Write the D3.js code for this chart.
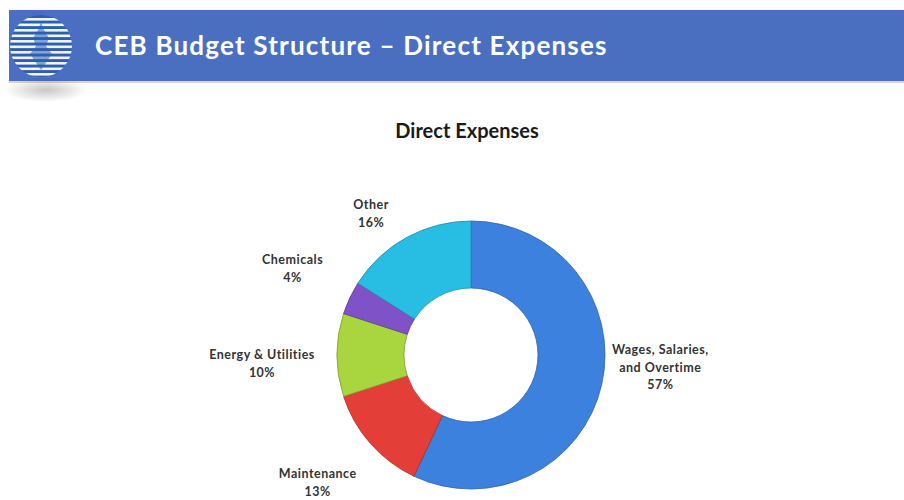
<!DOCTYPE html>
<html>
<head>
<meta charset="utf-8">
<script src="https://cdn.jsdelivr.net/npm/d3@7.9.0/dist/d3.min.js"></script>
<style>
  html, body { margin: 0; padding: 0; background: #fff; }
  svg { display: block; font-family: Lato, "Open Sans", sans-serif; }
</style>
</head>
<body>
<div id="chart"></div>
<script>
/* ---------------- DATA ---------------- */

const categories = ["Wages, Salaries, and Overtime", "Maintenance", "Energy & Utilities", "Chemicals", "Other"];
const labelLines = [["Wages, Salaries,", "and Overtime"], ["Maintenance"], ["Energy & Utilities"], ["Chemicals"], ["Other"]];
const shares = [57, 13, 10, 4, 16];
const colors = ["#3a7ad3", "#d83b35", "#a0ca3b", "#784ebd", "#26b4d7"];

const pageTitle = "CEB Budget Structure \u2013 Direct Expenses";
const chartTitle = "Direct Expenses";

/* ---------------- LAYOUT ---------------- */

const width = 904;
const height = 500;
const cx = 471, cy = 355;
const outerR = 134, innerR = 67;

const svg = d3.select("#chart")
  .append("svg")
  .attr("width", width)
  .attr("height", height);

const defs = svg.append("defs");

/* header bar */
const shadow = defs.append("radialGradient").attr("id", "logoShadow");
shadow.append("stop").attr("offset", "0%").attr("stop-color", "#000").attr("stop-opacity", 0.22);
shadow.append("stop").attr("offset", "100%").attr("stop-color", "#000").attr("stop-opacity", 0);

svg.append("rect")
  .attr("x", 9).attr("y", 10)
  .attr("width", width - 9).attr("height", 72)
  .attr("fill", "#4a6fc1");

svg.append("rect")
  .attr("x", 9).attr("y", 81)
  .attr("width", width - 9).attr("height", 2)
  .attr("fill", "#d4d7c4");

/* logo */
svg.append("ellipse")
  .attr("cx", 46).attr("cy", 90)
  .attr("rx", 42).attr("ry", 12)
  .attr("fill", "url(#logoShadow)");

defs.append("clipPath").attr("id", "logoClip")
  .append("circle").attr("cx", 41).attr("cy", 46).attr("r", 31);

const logo = svg.append("g").attr("clip-path", "url(#logoClip)");
logo.append("circle").attr("cx", 41).attr("cy", 46).attr("r", 31).attr("fill", "#2b5fb3");
d3.range(18, 80, 5.5).forEach(y => {
  logo.append("rect")
    .attr("x", 8).attr("y", y)
    .attr("width", 66).attr("height", 2.6)
    .attr("fill", "#f2f4fa");
});
logo.append("path")
  .attr("d", "M41,22 L44,30 L49,38 L46,46 L52,54 L41,70 L30,54 L36,46 L33,38 L38,30 Z")
  .attr("fill", "#2b5fb3")
  .attr("opacity", 0.55);

svg.append("text")
  .attr("x", 95).attr("y", 55)
  .attr("fill", "#fff")
  .attr("font-size", 26)
  .attr("font-weight", 700)
  .attr("letter-spacing", 1.2)
  .text(pageTitle);

/* chart title */
svg.append("text")
  .attr("x", 467).attr("y", 138)
  .attr("text-anchor", "middle")
  .attr("fill", "#1a1a1a")
  .attr("font-size", 20)
  .attr("font-weight", 700)
  .text(chartTitle);

/* ---------------- DONUT ---------------- */

const pie = d3.pie().sort(null).value(d => d)(shares);
const arc = d3.arc().innerRadius(innerR).outerRadius(outerR);

colors.forEach((c, i) => {
  const g = defs.append("radialGradient")
    .attr("id", `grad${i}`)
    .attr("gradientUnits", "userSpaceOnUse")
    .attr("cx", cx).attr("cy", cy).attr("r", outerR);
  const col = d3.color(c);
  g.append("stop").attr("offset", "50%").attr("stop-color", col.brighter(0.3));
  g.append("stop").attr("offset", "60%").attr("stop-color", c);
  g.append("stop").attr("offset", "93%").attr("stop-color", c);
  g.append("stop").attr("offset", "100%").attr("stop-color", col.brighter(0.15));
});

const donut = svg.append("g").attr("transform", `translate(${cx},${cy})`);

donut.selectAll("path")
  .data(pie)
  .join("path")
  .attr("d", arc)
  .attr("fill", (d, i) => `url(#grad${i})`)
  .attr("stroke", (d, i) => d3.color(colors[i]).darker(0.7))
  .attr("stroke-width", 0.8);

/* ---------------- LABELS ---------------- */

const labelArc = d3.arc().innerRadius(195).outerRadius(195);
const labelOffsets = [[-1, -30], [-7, -1], [-14, 9], [-2, -3], [-6, 30]];
const lineGap = 17.5;

const labels = svg.append("g")
  .attr("transform", `translate(${cx},${cy})`)
  .attr("font-size", 12.5)
  .attr("font-weight", 700)
  .attr("letter-spacing", 0.5)
  .attr("fill", "#333")
  .attr("text-anchor", "middle");

pie.forEach((d, i) => {
  const [x, y] = labelArc.centroid(d);
  const lx = x + labelOffsets[i][0];
  const ly = y + labelOffsets[i][1];
  const lines = labelLines[i].concat([shares[i] + "%"]);
  const t = labels.append("text")
    .attr("x", lx)
    .attr("y", ly - (lines.length - 1) * lineGap / 2 + 4);
  lines.forEach((ln, k) => {
    t.append("tspan")
      .attr("x", lx)
      .attr("dy", k === 0 ? 0 : lineGap)
      .text(ln);
  });
});
</script>
</body>
</html>
